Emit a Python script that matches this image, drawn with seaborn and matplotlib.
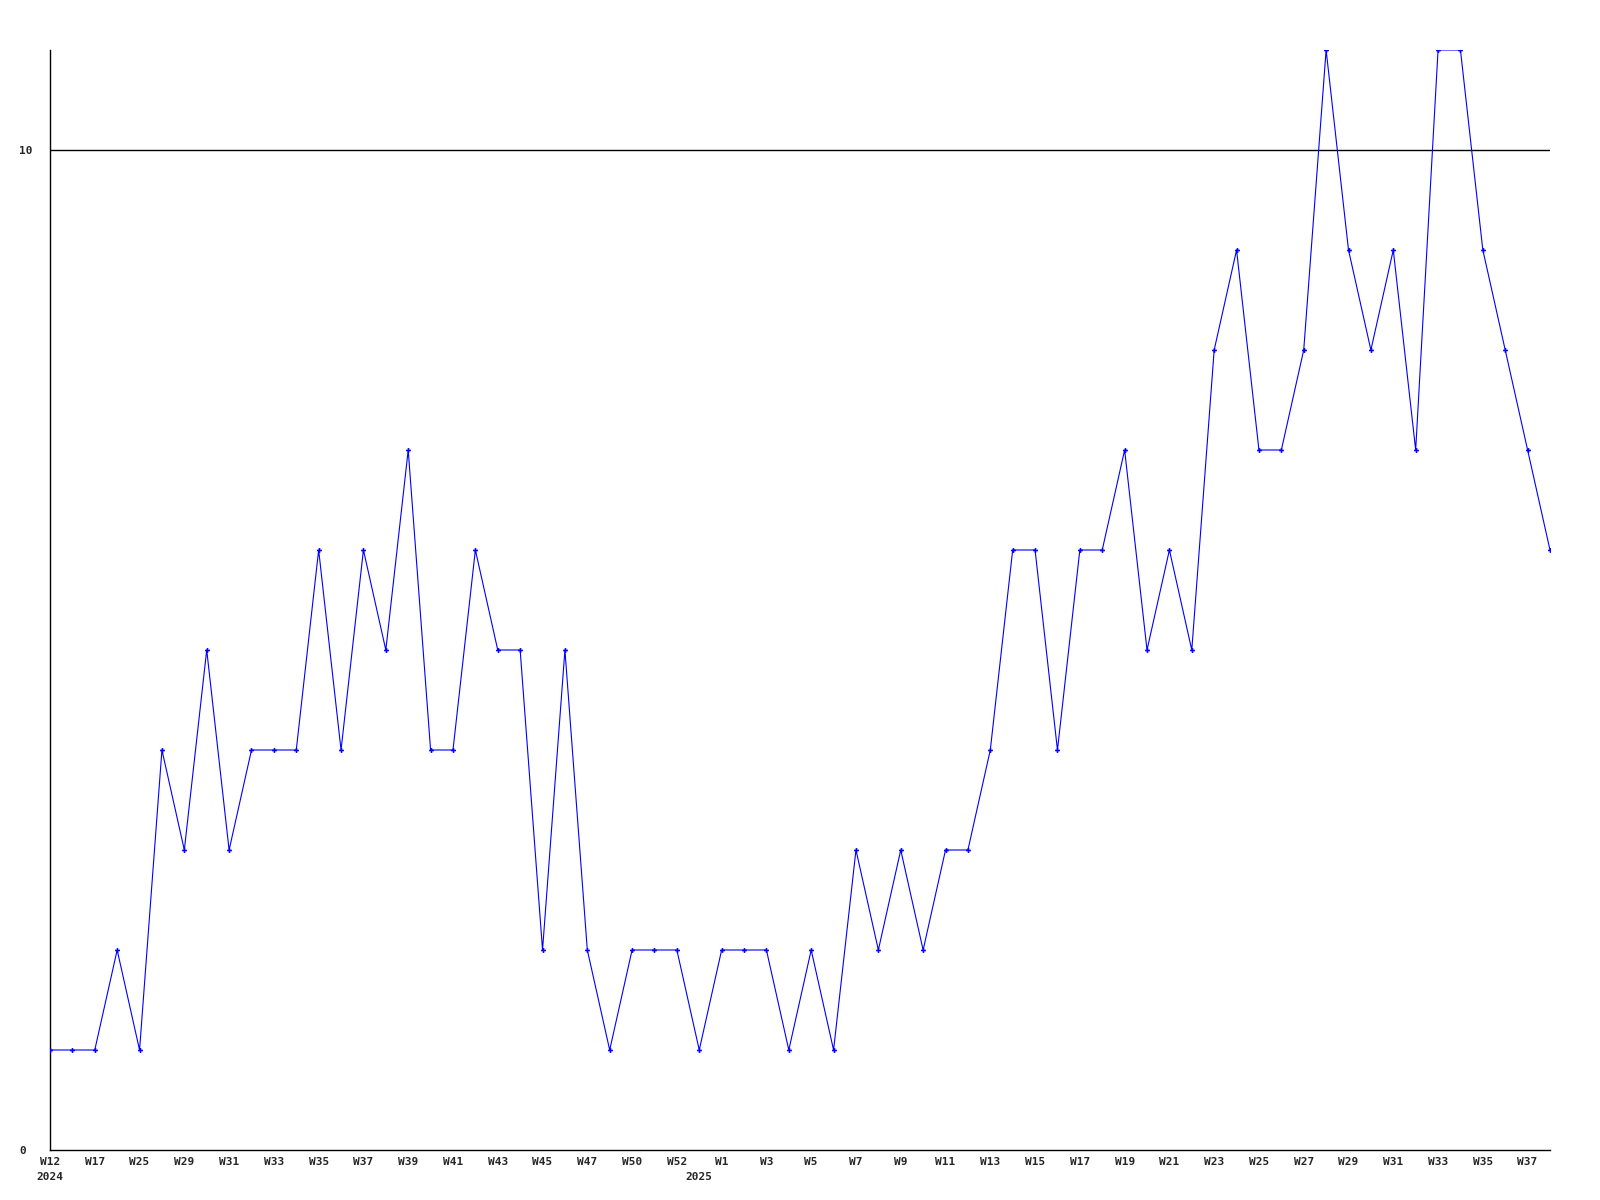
import numpy as np
import pandas as pd
import matplotlib
matplotlib.use("Agg")
import matplotlib.pyplot as plt
import seaborn as sns

# ==================================================
# DATA
# ==================================================
values = [
    1, 1, 1, 2, 1, 4, 3, 5, 3, 4,
    4, 4, 6, 4, 6, 5, 7, 4, 4, 6,
    5, 5, 2, 5, 2, 1, 2, 2, 2, 1,
    2, 2, 2, 1, 2, 1, 3, 2, 3, 2,
    3, 3, 4, 6, 6, 4, 6, 6, 7, 5,
    6, 5, 8, 9, 7, 7, 8, 11, 9, 8,
    9, 7, 11, 11, 9, 8, 7, 6,
]

# labels shown on every other point
week_labels = [
    "W12", "W17", "W25", "W29", "W31", "W33", "W35", "W37", "W39", "W41",
    "W43", "W45", "W47", "W50", "W52", "W1", "W3", "W5", "W7", "W9",
    "W11", "W13", "W15", "W17", "W19", "W21", "W23", "W25", "W27", "W29",
    "W31", "W33", "W35", "W37",
]

# year markers: point index -> year
year_points = [0, 29]
year_labels = ["2024", "2025"]

y_ticks = [0, 10]
y_max = 11

# ==================================================
# STYLE
# ==================================================
sns.set_style("white")
plt.rcParams["font.family"] = ["DejaVu Sans Mono", "DejaVu Sans"]
plt.rcParams["font.weight"] = "bold"

df = pd.DataFrame({"idx": np.arange(len(values)), "value": values})

fig = plt.figure(figsize=(16, 12), dpi=100)
ax = fig.add_axes([50 / 1600, 50 / 1200, 1500 / 1600, 1100 / 1200])

ax.axhline(10, color="black", linewidth=1.0, zorder=1)

sns.lineplot(
    data=df,
    x="idx",
    y="value",
    color="#0000ff",
    linewidth=0.8,
    marker="P",
    markersize=3.5,
    markeredgewidth=0,
    ax=ax,
    zorder=3,
)

ax.set_xlim(0, len(values) - 1)
ax.set_ylim(0, y_max)

# x tick labels (two lines where a year starts)
tick_pos = list(range(0, len(values), 2))
labels = {p: lab for p, lab in zip(tick_pos, week_labels)}
all_pos = sorted(set(tick_pos) | set(year_points))
tick_text = []
for p in all_pos:
    top = labels.get(p, "")
    if p in year_points:
        tick_text.append(top + "\n" + year_labels[year_points.index(p)])
    else:
        tick_text.append(top)
ax.set_xticks(all_pos)
ax.set_xticklabels(tick_text, fontsize=8, fontweight="bold", linespacing=1.6)

ax.set_yticks(y_ticks)
ax.set_yticklabels([str(t) for t in y_ticks], fontsize=8, fontweight="bold")
for lab in ax.get_yticklabels():
    lab.set_horizontalalignment("left")

ax.tick_params(axis="x", length=0, pad=5)
ax.tick_params(axis="y", length=0, pad=22)

ax.set_xlabel("")
ax.set_ylabel("")
sns.despine(ax=ax)
for side in ["left", "bottom"]:
    ax.spines[side].set_color("black")
    ax.spines[side].set_linewidth(1.0)

fig.savefig("out.png", dpi=100)
